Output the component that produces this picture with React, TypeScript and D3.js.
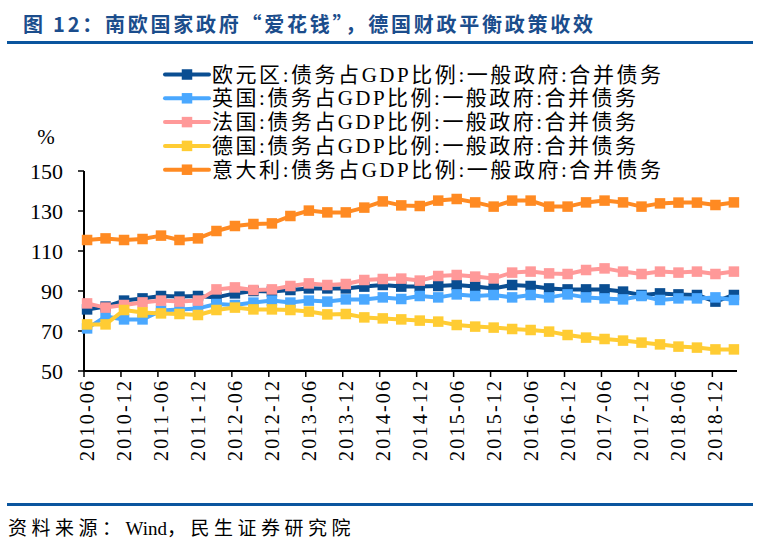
import React from "react";
import * as d3 from "d3";

const quarters = [
  "2010-06","2010-09","2010-12","2011-03","2011-06","2011-09","2011-12","2012-03",
  "2012-06","2012-09","2012-12","2013-03","2013-06","2013-09","2013-12","2014-03",
  "2014-06","2014-09","2014-12","2015-03","2015-06","2015-09","2015-12","2016-03",
  "2016-06","2016-09","2016-12","2017-03","2017-06","2017-09","2017-12","2018-03",
  "2018-06","2018-09","2018-12","2019-03",
];

const tickLabels = [
  "2010-06","2010-12","2011-06","2011-12","2012-06","2012-12","2013-06","2013-12",
  "2014-06","2014-12","2015-06","2015-12","2016-06","2016-12","2017-06","2017-12",
  "2018-06","2018-12",
];

const yTicks = [50, 70, 90, 110, 130, 150];

const euroArea = [
  80.8, 82.2, 85.2, 86.3, 87.5, 87.2, 87.5, 86.8, 88.8, 90, 89.7, 90.5, 91.3, 91.3, 91.3, 92.2, 93, 92.2,
  92.2, 92.5, 93, 92.2, 91.3, 93, 92.5, 91.3, 90.8, 90.8, 90.8, 89.7, 88, 88.8, 88.3, 88, 84.7, 88,
];
const uk = [
  71.3, 77.2, 75.8, 75.8, 80.2, 80.8, 81.3, 83.5, 83, 84.2, 85.2, 84.2, 85.2, 84.7, 85.8, 85.8, 86.8, 86,
  87.5, 86.8, 88.3, 87.5, 88, 86.8, 88, 86.8, 88.3, 86.8, 86.3, 85.8, 87.5, 85.5, 86.3, 86.3, 86.8, 85.5,
];
const france = [
  83.8, 81.7, 83, 84.3, 85.2, 84.7, 85.2, 90.8, 91.8, 90.5, 90.8, 92.5, 93.8, 93, 93.5, 95.5, 96, 96.2,
  95.2, 97.5, 98, 97.2, 96.3, 99.2, 99.7, 98.8, 98.5, 100.5, 101.3, 99.7, 98.5, 99.7, 99.2, 99.7, 98.5, 99.7,
];
const germany = [
  73.3, 73.3, 80.5, 79.3, 78.8, 78.5, 78, 80.5, 81.7, 80.8, 80.8, 80.5, 79.7, 78.3, 78.5, 76.8, 76.3, 75.8,
  75.2, 74.7, 73, 72.2, 71.7, 71, 70.5, 69.7, 68, 66.7, 66, 65.2, 64.2, 63.3, 62.2, 61.7, 60.8, 60.8,
];
const italy = [
  115.5, 116.3, 115.5, 116, 117.7, 115.5, 116.3, 120, 122.5, 123.5, 123.8, 127.5, 130.2, 129.3, 129.3, 131.7, 134.8, 132.8,
  132.5, 135.2, 136, 134.3, 132.2, 135.2, 135.2, 132.2, 132.2, 134.3, 135.2, 134.3, 132.2, 133.8, 134.2, 134.2, 133, 134.3,
];

const seriesNames = [
  "欧元区:债务占GDP比例:一般政府:合并债务",
  "英国:债务占GDP比例:一般政府:合并债务",
  "法国:债务占GDP比例:一般政府:合并债务",
  "德国:债务占GDP比例:一般政府:合并债务",
  "意大利:债务占GDP比例:一般政府:合并债务",
];
const seriesValues = [euroArea, uk, france, germany, italy];
const seriesColors = ["#0a4e92", "#4aa8ff", "#ff9999", "#ffcc33", "#ff8a22"];

const title = "图 12：南欧国家政府“爱花钱”，德国财政平衡政策收效";
const sourceParts = ["资料来源：", "Wind", "，民生证券研究院"];

const FONT =
  "'Times New Roman', 'Liberation Serif', Tinos, 'DejaVu Serif', 'Noto Sans CJK SC', serif";

export default function App() {
  const left = 84, right = 737, top = 171, bottom = 371;
  const monthOf = (label: string) => {
    const [y, m] = label.split("-").map(Number);
    return (y - 2010) * 12 + (m - 6);
  };
  const x = d3.scaleLinear().domain([0, 106]).range([left, right]);
  const y = d3.scaleLinear().domain([50, 150]).range([bottom, top]);
  const px = (i: number) => x(monthOf(quarters[i]) + 0.5);
  const line = d3
    .line<number>()
    .x((_, i) => px(i))
    .y((v) => y(v));
  const ms = 10.5;

  return (
    <svg
      width={760}
      height={545}
      style={{ position: "absolute", left: 0, top: 0, background: "#fff" }}
      fontFamily={FONT}
    >
      <rect width={760} height={545} fill="#fff" />
      {/* title */}
      <text
        x={23}
        y={23}
        dominantBaseline="central"
        fontSize={20}
        fontWeight="bold"
        fill="#1b4d8c"
        fontFamily="'Noto Sans CJK SC', sans-serif"
        textLength={570}
        lengthAdjust="spacing"
      >
        {title}
      </text>
      <rect x={7} y={41} width={746} height={3} fill="#0a559e" />

      {/* legend */}
      {seriesNames.map((name, k) => {
        const cy = 74.5 + k * 23.8;
        const len = name.startsWith("意") || name.startsWith("欧") ? 449 : 424;
        return (
          <g key={name}>
            <line x1={165} x2={209} y1={cy} y2={cy} stroke={seriesColors[k]} strokeWidth={4} strokeLinecap="round" />
            <rect x={187 - ms / 2} y={cy - ms / 2} width={ms} height={ms} fill={seriesColors[k]} />
            <text
              x={212}
              y={cy}
              dominantBaseline="central"
              fontSize={21}
              textLength={len}
              lengthAdjust="spacing"
              fill="#000"
            >
              {name}
            </text>
          </g>
        );
      })}

      {/* y axis */}
      <text x={46} y={137} textAnchor="middle" dominantBaseline="central" fontSize={21}>%</text>
      {yTicks.map((t) => (
        <g key={t}>
          <line x1={left - 6} x2={left} y1={y(t)} y2={y(t)} stroke="#000" strokeWidth={1.5} />
          <text x={63} y={y(t)} textAnchor="end" dominantBaseline="central" fontSize={22}>
            {t}
          </text>
        </g>
      ))}
      <line x1={left} x2={left} y1={top} y2={bottom + 1} stroke="#000" strokeWidth={2} />

      {/* x axis */}
      {tickLabels.map((lab) => {
        const tx = x(monthOf(lab));
        return (
          <g key={lab}>
            <line x1={tx} x2={tx} y1={bottom} y2={bottom + 6} stroke="#000" strokeWidth={1.5} />
            <text
              transform={`translate(${tx + 3},${bottom + 10}) rotate(-90)`}
              textAnchor="end"
              dominantBaseline="central"
              fontSize={20}
              textLength={80}
              lengthAdjust="spacing"
            >
              {lab}
            </text>
          </g>
        );
      })}
      <line x1={left - 1} x2={right} y1={bottom} y2={bottom} stroke="#000" strokeWidth={2} />

      {/* series */}
      {seriesValues.map((vals, k) => (
        <g key={k}>
          <path d={line(vals) || ""} fill="none" stroke={seriesColors[k]} strokeWidth={4} strokeLinejoin="round" />
          {vals.map((v, i) => (
            <rect key={i} x={px(i) - ms / 2} y={y(v) - ms / 2} width={ms} height={ms} fill={seriesColors[k]} />
          ))}
        </g>
      ))}

      {/* source */}
      <rect x={7} y={503} width={746} height={3} fill="#0a559e" />
      <text x={8} y={528} dominantBaseline="central" fontSize={19}>
        <tspan letterSpacing={4.5}>{sourceParts[0]}</tspan>
        <tspan>{sourceParts[1]}</tspan>
        <tspan letterSpacing={4.5}>{sourceParts[2]}</tspan>
      </text>
    </svg>
  );
}
